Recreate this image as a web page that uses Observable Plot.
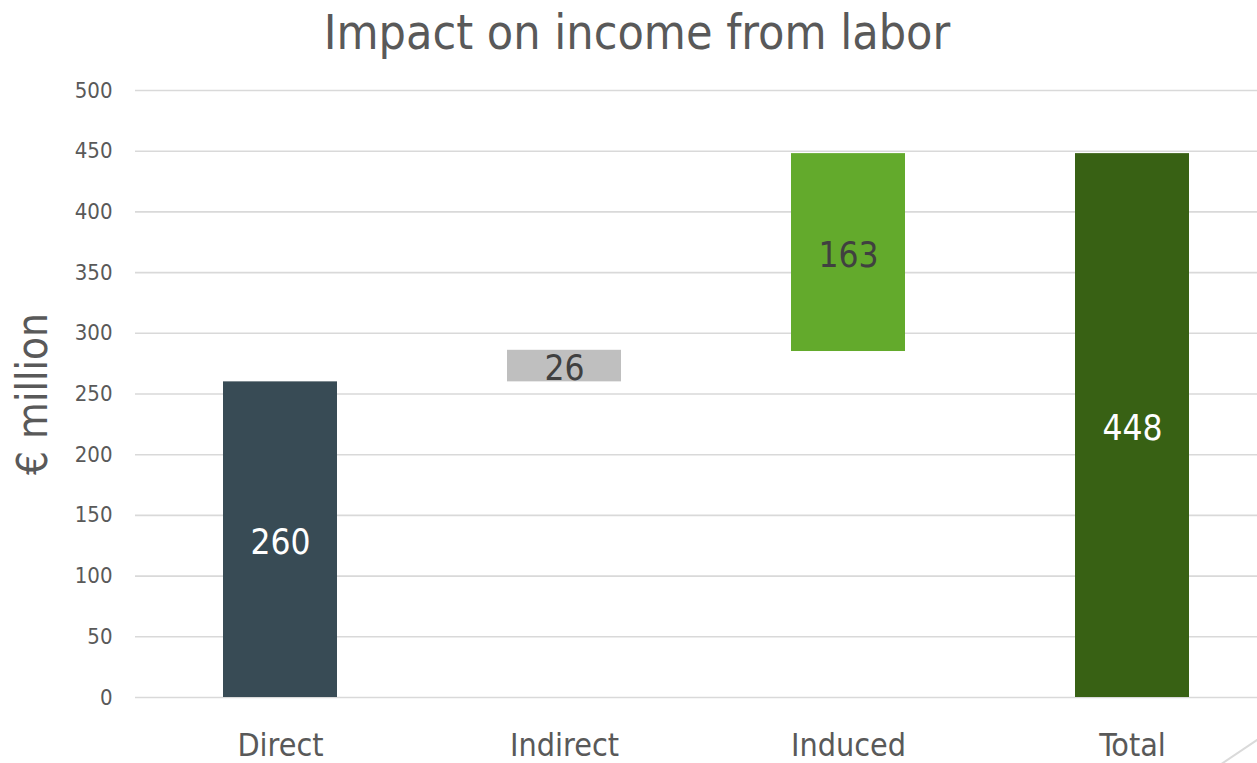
<!DOCTYPE html>
<html><head><meta charset="utf-8">
<script src="https://cdn.jsdelivr.net/npm/d3@7"></script>
<script src="https://cdn.jsdelivr.net/npm/@observablehq/plot@0.6"></script>
<style>
html,body{margin:0;background:#fff;overflow:hidden;}
body{font-family:"DejaVu Sans Condensed","Liberation Sans Narrow","Noto Sans",sans-serif;position:relative;width:1257px;height:763px;}
#title{height:70px;font-size:48px;color:#595959;text-align:center;padding-left:17px;line-height:64px;white-space:nowrap;}
#deco{position:absolute;left:1221px;top:763px;width:46px;height:0;border-top:2px solid #dadada;transform-origin:0 0;transform:rotate(-34deg);}
</style></head>
<body><div id="title">Impact on income from labor</div><div id="chart"></div><div id="deco"></div>
<script>
const FONT = '"DejaVu Sans Condensed","Liberation Sans Narrow","Noto Sans",sans-serif';
const categories = ["Direct", "Indirect", "Induced", "Total"];
const values = [260, 26, 163, 448];
const bases = [0, 260, 285, 0];
const yTicks = [0, 50, 100, 150, 200, 250, 300, 350, 400, 450, 500];
const yLabel = "€ million";
const barColors = ["#384b55", "#bfbfbf", "#63aa2c", "#386114"];
const labelColors = ["#ffffff", "#404040", "#404040", "#ffffff"];

const data = categories.map((c, i) => ({category: c, base: bases[i], top: bases[i] + values[i], value: values[i], idx: i}));

const plot = Plot.plot({
  width: 1257, height: 693,
  marginTop: 20, marginBottom: 66, marginLeft: 135, marginRight: 0,
  style: {fontFamily: FONT, background: "#fff", overflow: "visible"},
  x: {domain: categories, range: [137, 1274], paddingInner: 0.6, paddingOuter: 0.3, label: null},
  y: {domain: [0, 500], label: null},
  color: {domain: categories, range: barColors},
  marks: [
    Plot.gridY(yTicks, {stroke: "#d9d9d9", strokeOpacity: 1, strokeWidth: 1.6}),
    Plot.axisY(yTicks, {tickSize: 0, tickPadding: 23, fontSize: 22, color: "#595959", label: null}),
    Plot.axisX({tickSize: 0, tickPadding: 36, fontSize: 32, color: "#595959", label: null}),
    Plot.barY(data, {x: "category", y1: "base", y2: "top", fill: "category"}),
    Plot.text(data, {x: "category", y: d => (d.base + d.top) / 2, text: d => String(d.value), fill: d => labelColors[d.idx], fontSize: 35, dy: 3}),
    Plot.text([yLabel], {frameAnchor: "left", textAnchor: "middle", rotate: -90, dx: -102, fontSize: 42, fill: "#595959"})
  ]
});
document.getElementById("chart").appendChild(plot);
</script>
</body></html>
